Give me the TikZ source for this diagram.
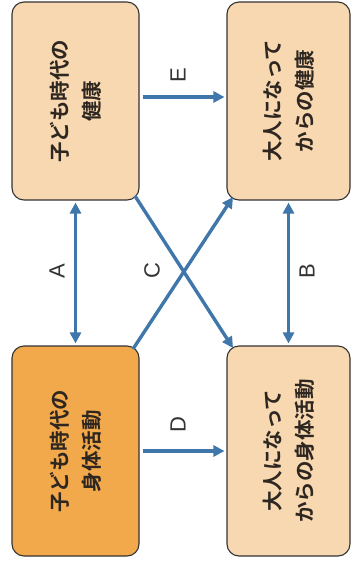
\documentclass[tikz,border=0pt]{standalone}
\usepackage{fontspec}
\setmainfont{Liberation Sans}
\newfontfamily\jpfont{Noto Sans CJK JP Bold}
\usetikzlibrary{arrows.meta}
\definecolor{boxlight}{HTML}{F8D8B0}
\definecolor{boxdark}{HTML}{F2A94B}
\definecolor{arrowblue}{HTML}{3F77AB}
\definecolor{txt}{HTML}{2E2620}
\tikzset{
  box/.style={draw=black!80, line width=1.1pt, rounded corners=12pt, fill=boxlight,
    minimum width=198pt, minimum height=127pt, inner sep=0pt, rotate=90,
    font=\jpfont\fontsize{20.5pt}{32pt}\selectfont, text=txt, align=center},
  darkbox/.style={box, fill=boxdark, minimum width=210pt},
  conn/.style={draw=arrowblue, line width=3.4pt, -{Triangle[length=11pt,width=11pt]}},
  biconn/.style={conn, {Triangle[length=11pt,width=11pt]}-{Triangle[length=11pt,width=11pt]}},
  lbl/.style={rotate=90, font=\fontsize{22pt}{24pt}\selectfont, text=black!80, inner sep=0pt}
}
\begin{document}
\begin{tikzpicture}[x=1pt,y=-1pt]
\useasboundingbox (0,0) rectangle (351,574);
\node[box] (ch) at (75.5,101) {子ども時代の\\健康};
\node[box, minimum height=123pt] (ah) at (288.5,101) {大人になって\\からの健康};
\node[darkbox] (cp) at (75.5,451) {子ども時代の\\身体活動};
\node[box, minimum width=210pt, minimum height=123pt] (ap) at (288.5,451) {大人になって\\からの身体活動};
\coordinate (c1s) at (135,196);
\coordinate (c1e) at (233,348);
\coordinate (c2s) at (133,349);
\coordinate (c2e) at (233,197);
\draw[conn] ([xshift=3pt,yshift=4pt]ch.south) -- ([xshift=-2pt,yshift=4pt]ah.north);
\draw[conn] ([xshift=3pt]cp.south) -- ([xshift=-2pt]ap.north);
\draw[biconn] ([yshift=-2pt]ch.west) -- ([yshift=2pt]cp.east);
\draw[biconn] ([yshift=-2pt]ah.west) -- ([yshift=2pt]ap.east);
\draw[conn] (c1s) -- (c1e);
\draw[conn] (c2s) -- (c2e);
\node[lbl] (le) at (178,75) {E};
\node[lbl] (ld) at (178,425) {D};
\node[lbl] (la) at (57,271) {A};
\node[lbl] (lb) at (307,271) {B};
\node[lbl] (lc) at (152,271) {C};
\end{tikzpicture}
\end{document}
